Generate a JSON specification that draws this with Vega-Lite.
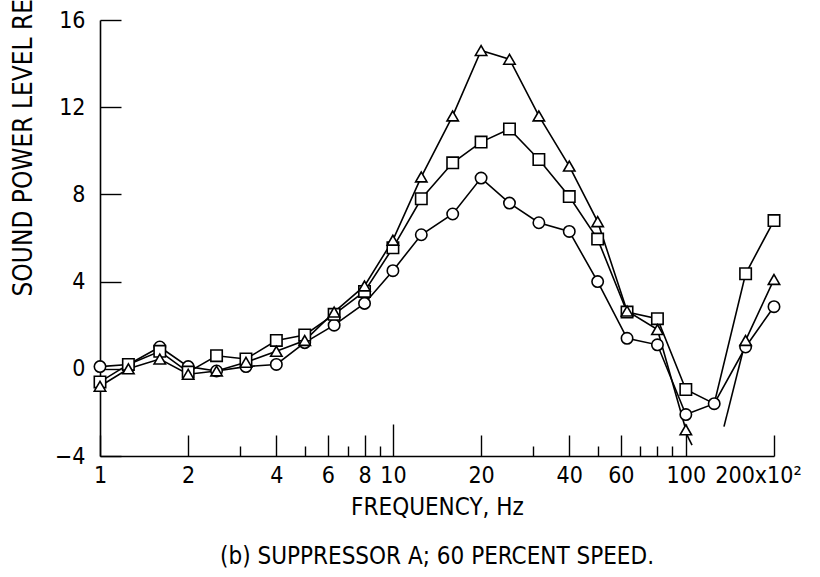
{
  "$schema": "https://vega.github.io/schema/vega-lite/v6.json",
  "width": 674,
  "height": 436,
  "autosize": {"type": "none"},
  "padding": {"left": 100, "top": 20, "right": 46, "bottom": 121},
  "background": "white",
  "config": {
    "view": {"stroke": null},
    "font": "'Liberation Sans Narrow', 'DejaVu Sans Condensed', 'Liberation Sans', sans-serif",
    "axis": {"grid": false, "domainColor": "black", "domainWidth": 1.6, "tickColor": "black", "tickWidth": 1.4, "labelColor": "black", "titleColor": "black", "titleFontWeight": "normal"}
  },
  "title": {"text": "(b) SUPPRESSOR A; 60 PERCENT SPEED.", "orient": "bottom", "anchor": "middle", "fontSize": 24, "fontWeight": "normal", "color": "black", "offset": 26},
  "datasets": {
    "pts": [
      {"f": 1, "s": "circle", "y": 0.1}, {"f": 1, "s": "square", "y": -0.6}, {"f": 1, "s": "triangle", "y": -0.8},
      {"f": 1.25, "s": "circle", "y": 0.2}, {"f": 1.25, "s": "square", "y": 0.2}, {"f": 1.25, "s": "triangle", "y": 0.0},
      {"f": 1.6, "s": "circle", "y": 1.0}, {"f": 1.6, "s": "square", "y": 0.8}, {"f": 1.6, "s": "triangle", "y": 0.45},
      {"f": 2, "s": "circle", "y": 0.1}, {"f": 2, "s": "square", "y": -0.15}, {"f": 2, "s": "triangle", "y": -0.25},
      {"f": 2.5, "s": "circle", "y": -0.1}, {"f": 2.5, "s": "square", "y": 0.6}, {"f": 2.5, "s": "triangle", "y": -0.1},
      {"f": 3.15, "s": "circle", "y": 0.1}, {"f": 3.15, "s": "square", "y": 0.45}, {"f": 3.15, "s": "triangle", "y": 0.3},
      {"f": 4, "s": "circle", "y": 0.2}, {"f": 4, "s": "square", "y": 1.3}, {"f": 4, "s": "triangle", "y": 0.8},
      {"f": 5, "s": "circle", "y": 1.2}, {"f": 5, "s": "square", "y": 1.55}, {"f": 5, "s": "triangle", "y": 1.3},
      {"f": 6.3, "s": "circle", "y": 2.0}, {"f": 6.3, "s": "square", "y": 2.5}, {"f": 6.3, "s": "triangle", "y": 2.6},
      {"f": 8, "s": "circle", "y": 3.0}, {"f": 8, "s": "square", "y": 3.55}, {"f": 8, "s": "triangle", "y": 3.8},
      {"f": 10, "s": "circle", "y": 4.5}, {"f": 10, "s": "square", "y": 5.55}, {"f": 10, "s": "triangle", "y": 5.9},
      {"f": 12.5, "s": "circle", "y": 6.15}, {"f": 12.5, "s": "square", "y": 7.8}, {"f": 12.5, "s": "triangle", "y": 8.8},
      {"f": 16, "s": "circle", "y": 7.1}, {"f": 16, "s": "square", "y": 9.45}, {"f": 16, "s": "triangle", "y": 11.6},
      {"f": 20, "s": "circle", "y": 8.75}, {"f": 20, "s": "square", "y": 10.4}, {"f": 20, "s": "triangle", "y": 14.6},
      {"f": 25, "s": "circle", "y": 7.6}, {"f": 25, "s": "square", "y": 11.0}, {"f": 25, "s": "triangle", "y": 14.2},
      {"f": 31.5, "s": "circle", "y": 6.7}, {"f": 31.5, "s": "square", "y": 9.6}, {"f": 31.5, "s": "triangle", "y": 11.6},
      {"f": 40, "s": "circle", "y": 6.3}, {"f": 40, "s": "square", "y": 7.9}, {"f": 40, "s": "triangle", "y": 9.3},
      {"f": 50, "s": "circle", "y": 4.0}, {"f": 50, "s": "square", "y": 5.95}, {"f": 50, "s": "triangle", "y": 6.75},
      {"f": 63, "s": "circle", "y": 1.4}, {"f": 63, "s": "square", "y": 2.6}, {"f": 63, "s": "triangle", "y": 2.65},
      {"f": 80, "s": "circle", "y": 1.1}, {"f": 80, "s": "square", "y": 2.3}, {"f": 80, "s": "triangle", "y": 1.8},
      {"f": 100, "s": "circle", "y": -2.1}, {"f": 100, "s": "square", "y": -0.95}, {"f": 100, "s": "triangle", "y": -2.8},
      {"f": 125, "s": "circle", "y": -1.6}, {"f": 125, "s": "square", "y": -1.6}, {"f": 125, "s": "triangle", "y": null},
      {"f": 160, "s": "circle", "y": 1.0}, {"f": 160, "s": "square", "y": 4.36}, {"f": 160, "s": "triangle", "y": 1.3},
      {"f": 200, "s": "circle", "y": 2.85}, {"f": 200, "s": "square", "y": 6.8}, {"f": 200, "s": "triangle", "y": 4.1}
    ],
    "segs": [
      {"f": 135, "y": -2.65, "f2": 160, "y2": 1.3},
      {"f": 105, "y": -3.5, "f2": 100.6, "y2": -3.0}
    ]
  },
  "layer": [
    {
      "data": {"name": "pts"},
      "mark": {"type": "line", "color": "black", "strokeWidth": 1.6, "invalid": "break-paths-filter-domains"},
      "encoding": {
        "x": {
          "field": "f", "type": "quantitative",
          "scale": {"type": "log", "domain": [1, 200], "nice": false},
          "axis": {
            "title": "FREQUENCY, Hz",
            "titleFontSize": 24,
            "titlePadding": 8,
            "values": [1, 2, 3, 4, 5, 6, 7, 8, 9, 10, 20, 30, 40, 50, 60, 70, 80, 90, 100, 200],
            "labelExpr": "datum.value == 200 ? '200x10²' : (indexof([1,2,4,6,8,10,20,40,60,100], datum.value) >= 0 ? '' + datum.value : '')",
            "labelOverlap": false,
            "labelFlush": false,
            "labelFontSize": 23,
            "labelOffset": {"condition": {"test": "datum.value == 200", "value": -16}, "value": 0},
            "tickSize": {"condition": [{"test": "datum.value == 10 || datum.value == 100", "value": -32}, {"test": "indexof([1,2,4,6,8,20,40,60,200], datum.value) >= 0", "value": -21}], "value": -10},
            "labelPadding": {"condition": [{"test": "datum.value == 10 || datum.value == 100", "value": 40}, {"test": "indexof([1,2,4,6,8,20,40,60,200], datum.value) >= 0", "value": 29}], "value": 18}
          }
        },
        "y": {
          "field": "y", "type": "quantitative",
          "scale": {"domain": [-4, 16], "nice": false, "zero": false},
          "axis": {
            "title": "SOUND POWER LEVEL REDUCTION, dB",
            "titleFontSize": 26,
            "titleX": -77,
            "titleY": 276,
            "titleAngle": 270,
            "titleAlign": "left",
            "titleBaseline": "middle",
            "values": [-4, 0, 4, 8, 12, 16],
            "labelFontSize": 23,
            "tickSize": -21,
            "labelPadding": 36
          }
        },
        "detail": {"field": "s", "type": "nominal"}
      }
    },
    {
      "data": {"name": "segs"},
      "mark": {"type": "rule", "color": "black", "strokeWidth": 1.6},
      "encoding": {
        "x": {"field": "f", "type": "quantitative"},
        "y": {"field": "y", "type": "quantitative"},
        "x2": {"field": "f2"},
        "y2": {"field": "y2"}
      }
    },
    {
      "data": {"name": "pts"},
      "transform": [{"filter": "datum.y != null && !(datum.s == 'square' && datum.f == 125)"}],
      "mark": {"type": "point", "filled": true, "fill": "white", "stroke": "black", "strokeWidth": 1.6, "opacity": 1, "size": 130},
      "encoding": {
        "x": {"field": "f", "type": "quantitative"},
        "y": {"field": "y", "type": "quantitative"},
        "shape": {"field": "s", "type": "nominal", "scale": {"domain": ["circle", "square", "triangle"], "range": ["circle", "square", "triangle-up"]}, "legend": null}
      }
    }
  ]
}
